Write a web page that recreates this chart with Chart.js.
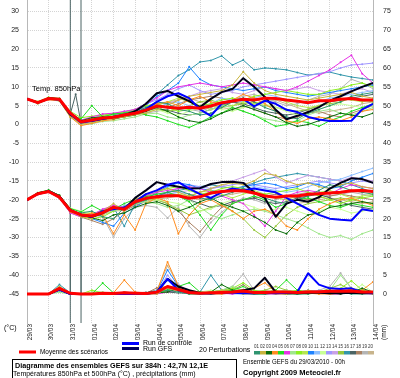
<!DOCTYPE html>
<html><head><meta charset="utf-8">
<script src="https://cdn.jsdelivr.net/npm/chart.js@4.4.0/dist/chart.umd.min.js"></script>
<style>html,body{margin:0;padding:0;background:#fff;}canvas{display:block;}</style>
</head><body>
<canvas id="c" width="400" height="378"></canvas>
<script>
// ---- categories / ticks ----
const hours = [0,12,24,36,48,60,72,84,96,108,120,132,144,156,168,180,192,204,216,228,240,252,264,276,288,300,312,324,336,348,360,372,384];
const dayTicks = [0,24,48,72,96,120,144,168,192,216,240,264,288,312,336,360,384];
const dateLabels = ['29/03','30/03','31/03','01/04','02/04','03/04','04/04','05/04','06/04','07/04','08/04','09/04','10/04','11/04','12/04','13/04','14/04'];
const leftTicks = [-45,-40,-35,-30,-25,-20,-15,-10,-5,0,5,10,15,20,25,30];
const rightTicks = [0,5,10,15,20,25,30,35,40,45,50,55,60,65,70,75];
const yMin = -52.7, yMax = 33.05;
const precipZero = -45; // left-axis value where 0 mm sits

// ---- mean / control / GFS ----
const m850 = [6.8,5.8,6.9,6.7,3.0, 0.7,1.2,1.7,1.9,2.5, 3.0,3.8,4.9,4.6,4.3, 4.6,4.3,4.9,5.8,6.2, 6.7,6.5,7.0,6.9,6.5, 6.2,5.8,6.3,6.3,6.7, 6.9,6.5,6.5];
const m500 = [-20.0,-18.4,-17.8,-19.3,-22.8, -24.0,-24.3,-23.4,-22.0,-22.5, -20.5,-19.6,-19.2,-18.9,-18.9, -19.6,-19.2,-18.2,-17.8,-17.6, -17.6,-18.2,-19.0,-19.3,-19.0, -19.0,-18.5,-18.4,-18.2,-18.0, -17.6,-17.5,-17.8];
const mRR = [0,0,0,1.5,0.2, 0,0,0.2,0.1,0.3, 0.2,0.1,0.5,2.0,1.2, 0.4,0.2,0.3,0.4,0.5, 0.8,0.4,0.4,0.5,0.5, 0.4,0.5,0.6,0.7,0.7, 0.8,0.5,0.5];
const c850 = [6.8,5.8,6.9,6.6,2.8, 0.5,1.0,1.5,2.0,2.5, 3.0,4.0,6.0,7.5,8.3, 7.0,4.0,2.3,5.5,6.3, 6.8,4.8,6.3,5.5,3.9, 3.3,2.0,1.3,0.9,0.9, 1.0,4.0,5.5];
const c500 = [-20,-18.4,-17.7,-19.2,-22.8, -24.0,-24.5,-23.0,-22.5,-22.0, -20.5,-18.5,-17.5,-16.0,-15.3, -17.0,-18.5,-19.5,-18.0,-17.0, -17.5,-17.0,-17.5,-18.0,-19.5, -21.0,-22.5,-24.0,-25.0,-25.3, -25.5,-22.5,-23.0];
const cRR = [0,0,0,1.2,0, 0,0,0,0,0, 0,0,0.5,4.0,1.0, 0.3,0.2,0.2,0.3,0.3, 0.2,0.2,0.3,0.2,0.3, 0.5,5.5,2.5,1.5,1.3, 1.5,0.5,0.3];
const g850 = [6.8,5.8,6.9,6.7,2.6, 0.8,1.0,1.5,2.0,2.5, 3.5,5.5,8.3,8.9,7.5, 6.2,4.6,6.8,8.6,9.4, 12.3,10.0,7.3,3.9,1.4, 2.3,3.3,4.6,6.3,7.5, 8.8,10.0,11.0];
const g500 = [-20,-18.3,-17.7,-19.1,-22.7, -24.0,-24.5,-23.5,-22.0,-22.5, -19.5,-17.5,-15.3,-16.0,-16.5, -17.0,-16.9,-15.8,-15.3,-15.2, -15.5,-18.0,-19.5,-24.5,-21.0, -20.0,-20.5,-19.3,-17.0,-15.5, -14.3,-14.5,-15.5];
const gRR = [0,0,0,1.3,0, 0,0,0,0,0, 0,0.2,0.5,4.0,2.0, 1.0,0.3,0.2,0.3,0.5, 1.0,1.5,4.3,0.5,0.3, 0.2,0.3,0.3,0.2,0.2, 0.3,0.2,0.2];

// ---- perturbations, 850 hPa ----
const t850_01 = [6.8,5.9,7.0,6.6,2.8, 0.6,1.0,1.5,2.2,2.8, 3.2,4.5,6.0,5.5,4.0, 3.5,2.5,3.0,4.5,6.0, 7.0,6.0,4.5,3.5,2.0, 1.5,3.0,4.0,5.0,6.0, 7.5,8.0,8.5];
const t850_02 = [6.8,5.6,6.8,6.4,2.2, 0.2,0.5,1.2,1.6,2.0, 2.6,3.0,4.0,5.0,6.5, 7.5,8.0,8.5,9.0,10.5, 14.0,11.0,9.0,8.0,7.5, 7.0,6.5,7.0,7.5,8.0, 8.5,7.5,7.0];
const t850_03 = [6.8,5.8,7.1,6.9,3.2, 1.0,1.8,2.0,1.5,2.0, 2.5,3.5,4.5,3.5,2.0, 1.0,0.5,1.5,3.0,4.0, 5.0,4.0,3.0,2.0,0.5, -0.5,0.0,1.0,2.0,3.0, 2.5,2.0,3.0];
const t850_04 = [6.8,6.0,6.6,6.3,2.0, -0.3,0.3,1.0,1.3,2.2, 2.8,3.6,5.5,6.0,5.0, 6.5,7.5,6.0,5.5,6.5, 8.0,7.0,5.5,3.5,1.0, 0.3,1.5,2.0,1.5,1.0, 2.0,3.5,4.0];
const t850_05 = [6.8,5.7,7.0,6.8,2.6, 1.5,5.0,2.0,2.8,3.0, 3.5,2.5,2.0,1.0,0.0, -0.8,0.5,2.0,3.0,4.5, 3.5,2.5,1.0,-0.5,0.0, 1.0,0.5,-0.5,1.0,2.0, 3.5,4.5,5.5];
const t850_06 = [6.8,5.9,6.9,6.5,3.3, 1.2,2.0,2.8,3.0,3.5, 4.0,5.5,7.0,9.0,10.0, 10.5,11.0,10.5,10.0,10.5, 11.0,10.5,10.0,9.5,9.0, 10.0,11.5,13.0,14.5,16.5, 18.4,13.5,11.0];
const t850_07 = [6.8,5.5,6.7,6.2,2.0, 0.0,0.2,0.8,1.0,1.5, 2.0,2.8,3.0,2.0,1.5, 2.5,3.0,4.0,5.0,4.5, 3.5,2.5,1.5,1.0,0.4, 1.0,2.5,3.5,4.0,3.0, 2.5,3.5,4.5];
const t850_08 = [6.8,6.1,7.2,6.9,3.5, 1.8,2.2,2.5,2.9,3.3, 4.0,5.0,5.5,4.5,3.5, 4.0,5.0,5.5,6.5,7.0, 6.5,7.5,8.0,8.5,9.0, 8.5,8.0,8.0,9.0,9.5, 10.5,11.0,10.0];
const t850_09 = [6.8,5.8,6.9,6.7,2.9, 0.8,1.4,2.2,2.5,2.4, 2.8,4.2,5.0,6.0,7.0, 6.0,5.0,4.0,4.5,5.0, 6.0,5.5,6.5,7.0,6.0, 5.0,4.5,5.0,6.0,7.0, 6.5,6.0,6.5];
const t850_10 = [6.8,5.9,6.8,6.6,2.7, 0.5,1.1,1.9,2.6,3.0, 3.4,5.0,7.5,9.0,11.0, 15.3,12.0,10.5,10.0,9.5, 9.0,9.5,10.0,9.0,8.5, 8.0,7.5,8.0,8.5,9.0, 9.5,10.0,10.5];
const t850_11 = [6.8,5.7,7.0,6.5,2.4, 0.4,0.9,1.4,1.8,2.6, 3.3,4.0,4.5,5.5,6.0, 5.0,4.5,5.5,7.0,6.5, 6.0,7.0,8.0,7.5,6.5, 6.0,5.5,6.0,7.0,7.5, 8.0,8.5,9.0];
const t850_12 = [6.8,5.8,6.9,6.8,3.1, 0.9,1.5,2.0,2.3,2.7, 3.1,3.5,4.0,3.0,2.5, 3.5,4.5,5.0,4.0,3.5, 4.5,5.0,5.5,4.5,3.5, 2.5,3.0,4.0,5.0,5.5, 5.0,4.5,5.0];
const t850_13 = [6.8,6.0,7.0,6.6,3.0, 1.0,1.6,2.4,2.8,3.4, 4.0,5.5,6.5,8.0,9.5, 10.5,9.0,8.0,8.5,9.0, 10.0,10.5,11.0,11.5,12.0, 12.5,13.0,13.5,14.0,15.0, 15.8,16.0,16.3];
const t850_14 = [6.8,5.6,6.7,6.4,2.3, 0.1,0.6,1.2,1.5,2.1, 2.7,3.2,4.5,5.5,6.5, 7.5,8.5,9.0,9.5,8.5, 8.0,9.0,10.0,9.5,9.0, 9.5,10.0,9.0,8.5,8.0, 9.0,9.5,8.5];
const t850_15 = [6.8,5.9,7.1,6.7,2.9, 0.7,1.3,1.8,2.0,2.5, 3.0,3.8,4.0,3.5,4.0, 5.0,6.0,6.5,5.5,5.0, 5.5,6.0,5.0,4.5,4.0, 3.5,4.0,5.0,5.5,6.0, 7.0,6.5,6.0];
const t850_16 = [6.8,5.8,6.8,6.6,2.6, 0.6,1.2,1.6,2.1,2.9, 3.6,5.5,8.0,10.5,13.0, 14.5,16.6,17.0,18.2,15.8, 17.1,14.5,15.0,14.8,14.5, 13.8,13.1,13.5,13.9,13.2, 12.6,12.2,11.8];
const t850_17 = [6.8,5.7,6.9,6.6,2.7, 0.3,0.8,1.3,1.8,2.2, 2.9,3.4,4.2,3.8,3.0, 2.5,3.0,4.0,5.0,6.0, 5.5,4.5,3.5,3.0,2.5, 3.0,4.0,5.0,6.0,6.5, 7.0,7.5,8.0];
const t850_18 = [6.8,6.0,7.0,6.8,3.2, 1.1,1.7,2.3,2.7,3.1, 3.8,4.5,5.0,4.5,5.5, 6.5,7.0,7.5,7.0,6.0, 5.0,4.0,3.0,2.0,1.5, 2.0,3.0,3.5,2.5,2.0, 3.0,4.0,5.0];
const t850_19 = [6.8,5.8,6.8,6.5,2.5, 0.3,0.7,1.3,1.9,2.3, 2.6,3.0,3.5,4.0,5.0, 4.0,3.5,4.5,5.5,6.5, 7.5,8.0,7.0,6.0,5.0, 5.5,6.5,7.5,8.0,9.5, 12.0,11.0,9.5];
const t850_20 = [6.8,5.9,7.0,6.7,2.8, 0.5,1.0,1.6,2.2,2.6, 3.2,4.0,5.2,6.0,6.5, 7.0,6.0,5.0,4.5,4.0, 4.5,5.5,6.0,6.5,5.5, 4.5,3.5,3.0,3.5,4.0, 4.5,5.5,6.0];

// ---- perturbations, 500 hPa ----
const t500_01 = [-20,-18.3,-17.6,-19.2,-23.0, -23.5,-23.0,-24.5,-25.0,-22.0, -21.0,-20.0,-19.0,-18.0,-17.5, -18.5,-19.5,-20.0,-19.0,-18.0, -17.0,-18.0,-19.5,-20.5,-21.0, -20.0,-19.0,-17.5,-16.0,-16.5, -17.5,-18.0,-18.5];
const t500_02 = [-20,-18.5,-17.9,-19.0,-22.5, -24.5,-25.0,-23.0,-21.0,-23.0, -20.0,-18.5,-17.5,-17.0,-18.0, -19.0,-18.0,-17.0,-16.0,-15.5, -16.0,-15.0,-13.0,-13.5,-15.0, -16.0,-15.5,-16.5,-17.0,-16.0, -15.5,-16.5,-17.0];
const t500_03 = [-20,-18.2,-17.5,-18.8,-22.6, -24.0,-24.8,-25.5,-24.0,-23.5, -22.0,-21.0,-20.5,-21.5,-23.0, -22.0,-20.5,-19.5,-21.0,-22.0, -23.0,-24.5,-26.0,-28.0,-29.0, -26.0,-24.0,-23.5,-22.0,-21.5, -21.0,-20.5,-21.0];
const t500_04 = [-20,-18.4,-17.7,-19.4,-23.2, -24.2,-23.5,-24.0,-29.0,-24.0, -28.0,-21.0,-19.5,-20.5,-29.0, -24.0,-21.0,-20.0,-21.5,-23.0, -25.0,-23.0,-22.5,-24.0,-27.0, -28.0,-25.0,-22.5,-21.0,-20.0, -19.5,-20.5,-21.5];
const t500_05 = [-20,-18.1,-17.4,-18.9,-22.3, -23.2,-21.5,-23.0,-22.5,-21.0, -19.8,-19.2,-18.5,-18.0,-19.0, -20.5,-24.0,-28.0,-24.0,-21.0, -20.0,-19.0,-20.0,-22.0,-21.0, -20.0,-19.5,-20.5,-21.5,-22.0, -21.0,-21.5,-22.0];
const t500_06 = [-20,-18.6,-18.0,-19.5,-23.5, -24.5,-24.0,-22.5,-21.5,-22.0, -20.0,-18.8,-18.0,-17.5,-17.0, -16.5,-17.0,-18.0,-19.0,-20.0, -21.0,-24.0,-27.0,-23.0,-19.0, -18.0,-17.5,-18.0,-18.5,-17.0, -16.0,-16.5,-17.0];
const t500_07 = [-20,-18.3,-17.8,-19.1,-22.8, -23.8,-24.5,-23.8,-22.8,-22.5, -21.0,-20.5,-21.0,-22.0,-21.5, -20.0,-22.0,-24.0,-25.0,-24.0, -23.0,-22.5,-23.0,-24.0,-25.0, -26.0,-27.5,-29.0,-30.0,-29.5, -30.5,-29.0,-28.0];
const t500_08 = [-20,-18.4,-17.6,-19.0,-22.4, -24.4,-25.0,-24.5,-23.0,-21.8, -20.2,-19.0,-18.0,-17.0,-16.5, -17.5,-18.5,-18.0,-17.0,-16.5, -17.0,-18.0,-18.5,-18.0,-17.5, -17.0,-18.0,-19.0,-20.0,-21.0, -20.0,-19.5,-19.0];
const t500_09 = [-20,-18.2,-17.7,-19.3,-22.9, -23.6,-23.8,-22.8,-21.5,-22.8, -21.0,-20.0,-19.5,-19.0,-18.5, -19.0,-18.0,-17.5,-18.5,-19.5, -18.5,-17.5,-18.5,-19.5,-20.0, -19.0,-18.5,-18.0,-17.5,-18.5, -19.5,-19.0,-18.5];
const t500_10 = [-20,-18.5,-17.8,-19.2,-22.7, -24.0,-25.0,-26.0,-27.0,-23.5, -22.0,-20.0,-18.0,-16.5,-15.5, -16.0,-17.0,-17.5,-18.0,-17.5, -16.5,-16.0,-15.5,-16.0,-17.0, -16.5,-15.5,-16.0,-17.0,-16.5, -15.0,-14.0,-13.0];
const t500_11 = [-20,-18.3,-17.6,-19.0,-22.5, -24.2,-24.0,-23.5,-22.5,-21.5, -20.5,-19.5,-19.0,-18.5,-18.0, -18.5,-19.0,-18.5,-18.0,-17.5, -17.0,-16.5,-17.0,-17.5,-18.0, -17.5,-16.5,-15.5,-15.0,-14.5, -13.5,-12.5,-11.6];
const t500_12 = [-20,-18.1,-17.5,-18.8,-22.2, -23.0,-23.5,-23.0,-22.0,-22.0, -21.0,-20.5,-20.0,-20.5,-21.0, -22.0,-23.0,-22.5,-21.0,-20.0, -21.0,-22.0,-23.0,-22.5,-22.0, -23.0,-24.0,-23.0,-22.0,-22.5, -23.5,-23.0,-22.5];
const t500_13 = [-20,-18.4,-17.8,-19.3,-22.9, -24.3,-24.6,-23.6,-22.2,-22.4, -20.5,-19.0,-18.5,-18.0,-17.0, -16.0,-16.5,-17.0,-16.5,-16.0, -15.5,-16.0,-16.5,-17.0,-16.5, -16.0,-15.5,-15.0,-15.5,-16.0, -15.5,-15.0,-15.5];
const t500_14 = [-20,-18.5,-17.9,-19.4,-23.1, -24.1,-24.2,-22.5,-21.8,-22.6, -20.8,-19.8,-19.3,-18.5,-18.0, -17.5,-18.0,-17.0,-16.5,-15.0, -14.0,-13.0,-12.0,-14.0,-15.5, -14.5,-13.5,-14.0,-14.5,-15.0, -14.0,-14.5,-15.0];
const t500_15 = [-20,-18.2,-17.6,-19.1,-22.6, -23.9,-24.3,-23.3,-21.9,-22.2, -20.6,-19.7,-20.0,-21.0,-22.5, -24.0,-23.0,-22.0,-21.0,-23.0, -25.0,-28.0,-30.0,-27.0,-24.0, -22.0,-21.0,-20.5,-20.0,-19.5, -20.0,-20.5,-21.0];
const t500_16 = [-20,-18.3,-17.7,-19.0,-22.6, -24.0,-24.4,-23.5,-22.0,-27.0, -21.0,-19.5,-19.0,-18.0,-17.5, -17.0,-16.5,-16.0,-16.5,-17.0, -16.5,-15.5,-14.5,-14.0,-13.5, -13.0,-13.5,-14.0,-14.5,-15.0, -16.0,-17.0,-18.0];
const t500_17 = [-20,-18.4,-17.8,-19.2,-22.7, -24.2,-24.0,-23.0,-22.0,-22.5, -20.0,-19.5,-19.0,-18.5,-19.0, -20.0,-21.0,-22.0,-21.5,-20.5, -20.0,-19.5,-20.5,-21.0,-20.5, -19.5,-19.0,-18.5,-19.5,-20.5, -21.5,-22.0,-22.5];
const t500_18 = [-20,-18.6,-18.0,-19.6,-23.4, -24.6,-25.5,-26.5,-25.0,-23.0, -21.5,-20.5,-20.0,-21.0,-23.0, -26.0,-28.5,-25.0,-22.0,-21.0, -20.0,-19.5,-19.0,-18.5,-19.0, -19.5,-20.0,-19.5,-19.0,-18.5, -19.0,-19.5,-20.0];
const t500_19 = [-20,-18.2,-17.5,-18.9,-22.4, -23.7,-24.0,-24.5,-29.8,-25.0, -22.0,-21.5,-22.0,-24.8,-22.0, -27.0,-30.0,-26.0,-23.3,-21.0, -19.5,-20.0,-21.0,-20.0,-19.0, -18.5,-18.0,-18.5,-19.0,-18.5, -18.0,-18.5,-19.0];
const t500_20 = [-20,-18.4,-17.7,-19.1,-22.7, -24.1,-24.6,-24.0,-23.0,-22.8, -21.2,-20.3,-19.8,-19.5,-19.0, -19.5,-20.0,-19.5,-19.0,-18.5, -18.0,-18.5,-19.0,-19.5,-20.0, -21.0,-20.5,-20.0,-19.5,-20.0, -20.5,-21.0,-20.5];

// ---- perturbations, precipitation (mm) ----
const rr_01 = [0,0,0,1.5,0, 0,0,0.2,0,0, 0,0,0.5,1.0,0.5, 0,0,0,0.3,0.5, 0.2,0,0,0.5,0.3, 0,0,0.5,1.0,0.5, 0,0,0.2];
const rr_02 = [0,0,0,2.0,0.2, 0,0,0,0,0.5, 0.2,0,0,1.5,0.8, 0,0,0.5,1.0,0.5, 0,0,0.3,0,0, 0.5,1.0,0.5,0,0.3, 1.5,0.5,0];
const rr_03 = [0,0,0,1.0,0, 0,0,0,0,0, 0,0,0.3,0.5,1.5, 0.5,0.2,0.5,2.5,1.0, 0.3,0,0,0.2,0, 0,0.2,0.5,0.3,0, 0.5,1.5,0.5];
const rr_04 = [0,0,0,1.2,0, 0,0,0,0.3,3.7, 0.5,0,0.5,8.5,2.0, 0.5,0.2,0,0,0.3, 1.0,1.5,3.0,0.5,0.3, 0.5,0.2,0,0,0.2, 0.5,1.0,3.2];
const rr_05 = [0,0,0,1.8,0, 0,0,2.9,0.3,0, 0,0,0.2,1.0,2.0, 3.0,0.5,0.2,0.5,1.0, 2.0,0.5,0.3,1.0,3.7, 1.0,0.3,0.5,1.0,0.5, 0.3,0.2,0.5];
const rr_06 = [0,0,0,1.0,0, 0,0,0,0,0.5, 0.2,0,0,0.5,1.0, 0.3,0,0,0.2,0, 0.5,0.3,0,0,0, 0.2,0.5,0.3,0,0, 0.5,0.2,0];
const rr_07 = [0,0,0,0.5,0, 0,0.5,0.5,0,0, 0,0,0.5,1.5,1.0, 0.3,0,0.5,1.0,2.0, 1.0,0.5,0.3,0.5,1.0, 0.5,0.3,0.5,1.0,5.0, 1.5,0.5,0.5];
const rr_08 = [0,0,0,1.5,0, 0,1.0,0.3,0,0, 0,0,0.3,1.0,1.5, 0.5,0.3,0.2,0.5,1.5, 3.0,1.0,0.5,0.3,0.5, 1.0,0.5,0.2,0.5,1.5, 3.5,1.0,0.5];
const rr_09 = [0,0,0,1.2,0, 0,0,0,0,0.2, 0,0,0.5,2.0,1.0, 0.5,0.2,0,0.3,0.5, 0.3,0.2,0.5,1.0,0.5, 0.2,0,0.3,0.5,0.3, 0.2,0.5,0.3];
const rr_10 = [0,0,0,1.0,0, 0,0,0,0,0, 0.2,0,0.5,6.4,2.0, 0.5,0.2,0.3,0.5,0.3, 0.2,0,0.2,0.5,0.3, 0.5,1.0,0.5,0.3,0.2, 0.3,0.5,0.2];
const rr_11 = [0,0,0,0.8,0, 0,0,0,0,0, 0,0,1.0,3.5,1.5, 0.5,0.2,0.5,0.3,0, 0,0.2,0.5,0.3,0, 0.2,0.5,1.0,0.5,0.3, 0.5,0.3,0];
const rr_12 = [0,0,0,0.5,0, 0,0,0.3,0,0, 0,0.2,0.5,1.0,0.5, 0.3,0.5,1.0,0.5,0.3, 0.2,0.5,0.3,0.2,0.5, 1.0,0.5,0.3,0.5,1.0, 0.5,2.5,0.5];
const rr_13 = [0,0,0,1.0,0, 0,0,0,0,0, 0,0,0.5,5.0,1.5, 0.5,0.3,0.2,0,0.2, 0.5,0.3,0,0.2,0.3, 0.5,0.3,0.2,0.3,0.5, 0.2,0.3,0.2];
const rr_14 = [0,0,0,0.8,0, 0,0,0,0,0.3, 0,0,0.5,1.5,2.5, 0.5,0.2,0,0,0.3, 0.5,0.3,0.2,0,0.2, 0.3,0.5,0.3,0.2,0.5, 0.3,0.2,0];
const rr_15 = [0,0,0,1.5,0.2, 0,0,0,0,0, 0,0,0.3,1.5,2.0, 1.0,0.5,0.5,1.0,1.5, 1.0,0.5,1.0,2.0,1.0, 0.5,0.3,0.5,1.5,2.5, 1.0,0.5,0.5];
const rr_16 = [0,0,0,2.5,0.3, 0,0,0,0,0.2, 0,0,0.5,1.0,0.5, 0.3,0.5,5.0,1.0,0.5, 0.3,0.2,0.5,0.3,0.2, 0.3,0.5,0.3,0.2,0.5, 0.3,0.2,0.3];
const rr_17 = [0,0,0,1.5,0.3, 0,0,0,0,0, 0,0.3,1.0,0.5,0.3, 0.2,0,0.2,0.5,0.3, 0.2,0.3,0.5,0.3,0.2, 0.3,0.5,0.3,0.2,0.3, 0.5,0.3,0.2];
const rr_18 = [0,0,0,1.0,0, 0,0,0,0,0.5, 0.3,0.2,1.6,2.0,1.0, 0.5,0.3,0.2,0.5,1.0, 2.5,0.5,0.3,0.5,1.0, 0.5,0.3,0.2,0.5,1.0, 0.5,0.3,0.5];
const rr_19 = [0,0,0,1.2,0, 0,0,0,0,0, 0.2,0.5,0.5,2.0,1.0, 0.5,0.3,0.5,1.0,2.0, 5.3,1.0,0.5,0.3,0.5, 0.3,0.5,1.0,2.0,5.6, 1.5,1.0,0.5];
const rr_20 = [0,0,0,1.0,0, 0,0,0,0,0.3, 0.5,0.3,1.0,7.5,2.5, 0.5,0.3,0.5,1.0,0.5, 0.3,0.5,1.0,0.5,0.3, 0.5,0.8,0.5,0.3,0.5, 1.0,0.5,0.3];

// member 17 has a corrupt 31/03 06h record
const spikeMember = 17, spikeHour = 54;
const spike850 = 8, spike500 = -9999, spikeRR = 9999;

const pertNames = ['01','02','03','04','05','06','07','08','09','10','11','12','13','14','15','16','17','18','19','20'];
const pertColors = ['#2f9470','#c8b43c','#0b6e0b','#ff8c1e','#22dd22','#e632e6','#a0e68c','#8cf01e','#b4e650','#1e82ff','#8cbeff','#c8ff96','#a096ff','#c8a0e6','#96c83c','#3296aa','#4b6464','#aa8264','#b4b4b4','#c8b48c'];
const P850 = [t850_01,t850_02,t850_03,t850_04,t850_05,t850_06,t850_07,t850_08,t850_09,t850_10,t850_11,t850_12,t850_13,t850_14,t850_15,t850_16,t850_17,t850_18,t850_19,t850_20];
const P500 = [t500_01,t500_02,t500_03,t500_04,t500_05,t500_06,t500_07,t500_08,t500_09,t500_10,t500_11,t500_12,t500_13,t500_14,t500_15,t500_16,t500_17,t500_18,t500_19,t500_20];
const PRR = [rr_01,rr_02,rr_03,rr_04,rr_05,rr_06,rr_07,rr_08,rr_09,rr_10,rr_11,rr_12,rr_13,rr_14,rr_15,rr_16,rr_17,rr_18,rr_19,rr_20];

// ---- texts ----
const label850 = 'Temp. 850hPa';
const unitLeft = '(°C)', unitRight = '(mm)';
const legendMean = 'Moyenne des scénarios', legendCtrl = 'Run de contrôle', legendGfs = 'Run GFS';
const pertText = '20 Perturbations';
const title1 = 'Diagramme des ensembles GEFS sur 384h : 42,7N 12,1E';
const title2 = 'Températures 850hPa et 500hPa (°C) , précipitations (mm)';
const runText = 'Ensemble GEFS du 29/03/2010 - 00h';
const copyText = 'Copyright 2009 Meteociel.fr';

function pts(vals, spike) {
  const out = [];
  for (let i = 0; i < vals.length; i++) {
    out.push({x: hours[i], y: vals[i]});
    if (spike !== undefined && hours[i] < spikeHour && hours[i + 1] > spikeHour) out.push({x: spikeHour, y: spike});
  }
  return out;
}

const datasets = [];
function main(vals, color, w, axis) {
  datasets.push({data: pts(vals), borderColor: color, backgroundColor: color, borderWidth: w, yAxisID: axis, pointRadius: 0});
}
main(m850, '#ff0000', 3, 'y'); main(m500, '#ff0000', 3, 'y'); main(mRR, '#ff0000', 3, 'y2');
main(c850, '#0000ff', 2, 'y'); main(c500, '#0000ff', 2, 'y'); main(cRR, '#0000ff', 2, 'y2');
main(g850, '#000018', 2, 'y'); main(g500, '#000018', 2, 'y'); main(gRR, '#000018', 2, 'y2');
for (let k = 0; k < 20; k++) {
  const sp = (k + 1) === spikeMember;
  const base = {borderColor: pertColors[k], backgroundColor: pertColors[k], borderWidth: 1, pointRadius: 1, pointBorderWidth: 0};
  datasets.push(Object.assign({data: pts(P850[k], sp ? spike850 : undefined), yAxisID: 'y'}, base));
  datasets.push(Object.assign({data: pts(P500[k], sp ? spike500 : undefined), yAxisID: 'y'}, base));
  datasets.push(Object.assign({data: pts(PRR[k], sp ? spikeRR : undefined), yAxisID: 'y2'}, base));
}

const FONT = '"Liberation Sans", Arial, sans-serif';
function F(size, bold) { return (bold ? 'bold ' : '') + size + 'px ' + FONT; }

const annot = {
  id: 'annot',
  afterDraw(chart) {
    const c = chart.ctx;
    c.save();
    c.fillStyle = '#000'; c.textBaseline = 'middle'; c.textAlign = 'left';
    c.font = F(7.5); c.fillText(label850, 32, 89);
    c.font = F(7); c.fillText(unitLeft, 4, 328);
    c.save(); c.translate(384, 340); c.rotate(-Math.PI / 2); c.font = F(6.5); c.fillText(unitRight, 0, 0); c.restore();
    // legend lines
    function seg(x1, y, x2, col) { c.beginPath(); c.strokeStyle = col; c.lineWidth = 3; c.moveTo(x1, y); c.lineTo(x2, y); c.stroke(); }
    seg(19, 352, 36, '#ff0000');
    seg(122, 343.5, 139, '#0000ff');
    seg(122, 348.5, 139, '#000060');
    c.font = F(7);
    c.fillText(legendMean, 40, 352, 68);
    c.fillText(legendCtrl, 143, 343, 49);
    c.fillText(legendGfs, 143, 349, 30);
    c.fillText(pertText, 199, 350, 54);
    // perturbation swatches
    c.font = F(4.5);
    for (let k = 0; k < 20; k++) {
      c.fillStyle = '#333'; c.fillText(pertNames[k], 254 + k * 6, 346.5, 5.5);
      c.fillStyle = pertColors[k]; c.fillRect(254 + k * 6, 351, 6, 3.5);
    }
    // title box
    c.fillStyle = '#000';
    c.strokeStyle = '#000'; c.lineWidth = 1; c.strokeRect(12.5, 359.5, 224, 30);
    c.font = F(7.5, true); c.fillText(title1, 15, 366, 193);
    c.font = F(7); c.fillText(title2, 13, 374, 185);
    c.font = F(7); c.fillText(runText, 243, 362, 102);
    c.font = F(7.5, true); c.fillText(copyText, 243, 373, 109);
    c.restore();
  }
};

new Chart(document.getElementById('c'), {
  type: 'line',
  data: {datasets},
  options: {
    responsive: false, animation: false, devicePixelRatio: 1,
    layout: {padding: 0, autoPadding: false},
    elements: {line: {tension: 0, borderJoinStyle: 'round'}, point: {radius: 0}},
    plugins: {legend: {display: false}, tooltip: {enabled: false}},
    events: [],
    scales: {
      x: {
        type: 'linear', min: 0, max: 384,
        afterBuildTicks: s => { s.ticks = dayTicks.map(v => ({value: v})); },
        afterFit: s => { s.height = 55; s.paddingLeft = 0; s.paddingRight = 0; },
        ticks: {autoSkip: false, maxRotation: 90, minRotation: 90, padding: 1, labelOffset: 3,
                font: {family: FONT, size: 6.5}, color: '#222', callback: (v, i) => dateLabels[i]},
        grid: {color: '#d4d4d4', drawTicks: false, lineWidth: 1},
        border: {display: false, dash: [1, 1]}
      },
      y: {
        position: 'left', min: yMin, max: yMax,
        afterBuildTicks: s => { s.ticks = leftTicks.map(v => ({value: v})); },
        afterFit: s => { s.width = 27; s.paddingTop = 0; s.paddingBottom = 0; },
        ticks: {padding: 8, font: {family: FONT, size: 7}, color: '#222'},
        grid: {color: '#d4d4d4', drawTicks: false, lineWidth: 1},
        border: {display: true, color: '#b8b8b8', dash: [1, 1]}
      },
      y2: {
        position: 'right', min: yMin - precipZero, max: yMax - precipZero,
        afterBuildTicks: s => { s.ticks = rightTicks.map(v => ({value: v})); },
        afterFit: s => { s.width = 27; s.paddingTop = 0; s.paddingBottom = 0; },
        ticks: {padding: 10, font: {family: FONT, size: 7}, color: '#222'},
        grid: {display: false, drawTicks: false},
        border: {display: true, color: '#b8b8b8'}
      }
    }
  },
  plugins: [annot]
});
</script>
</body></html>
